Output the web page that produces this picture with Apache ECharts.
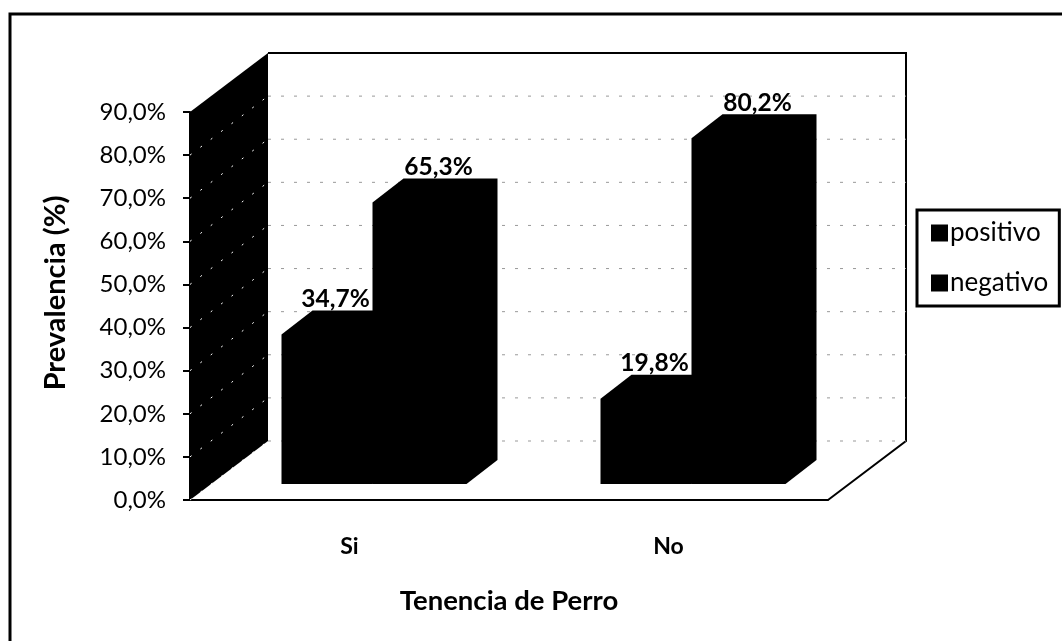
<!DOCTYPE html>
<html>
<head>
<meta charset="utf-8">
<style>
    html, body { margin: 0; padding: 0; background: #fff; }
    #chart { width: 1062px; height: 641px; }
</style>
<script src="https://cdn.jsdelivr.net/npm/echarts@6/dist/echarts.min.js"></script>
</head>
<body>
<div id="chart"></div>
<script>
const categories = ['Si', 'No']
const positivo = [34.7, 19.8]
const negativo = [65.3, 80.2]
const yTicks = [0, 10, 20, 30, 40, 50, 60, 70, 80, 90]

const font = 'Lato'
// depth of the fake 3d box, the walls and the bars
const wallDx = 78, wallDy = -59
const barDx = 31, barDy = -24
const barLift = 16

const fmt = v => v.toFixed(1).replace('.', ',') + '%'

const chartInstance = echarts.init(document.getElementById('chart'))

// left wall + outline of the back wall and floor
const renderWalls = (params, api) => {
    const r = params.coordSys
    const bottom = r.y + r.height
    const right = r.x + r.width
    return {
        type: 'group',
        silent: true,
        children: [
            {
                type: 'polygon',
                shape: { points: [[r.x, bottom], [r.x, r.y], [r.x + wallDx, r.y + wallDy], [r.x + wallDx, bottom + wallDy]] },
                style: { fill: '#000' }
            },
            {
                type: 'polyline',
                shape: { points: [[r.x + wallDx, r.y + wallDy], [right + wallDx, r.y + wallDy], [right + wallDx, bottom + wallDy], [right, bottom]] },
                style: { fill: 'none', stroke: '#000', lineWidth: 2 }
            }
        ]
    }
}

// gridline on the back wall and on the left wall for one tick
const renderGrid = (params, api) => {
    const r = params.coordSys
    const y = api.coord([0, api.value(0)])[1]
    const top = api.value(0) === 90
    return {
        type: 'group',
        silent: true,
        children: [
            {
                type: 'line',
                ignore: top,
                shape: { x1: r.x + wallDx, y1: y + wallDy, x2: r.x + r.width + wallDx, y2: y + wallDy },
                style: { stroke: '#999', lineWidth: 1, lineDash: [3, 10] }
            },
            {
                type: 'line',
                ignore: top,
                shape: { x1: r.x, y1: y, x2: r.x + wallDx, y2: y + wallDy },
                style: { stroke: '#fff', lineWidth: 1, lineDash: [2, 11] }
            }
        ]
    }
}

const makeBar = (from, to, labelX) => (params, api) => {
    const idx = api.value(0)
    const val = api.value(1)
    const c = api.coord([idx, 0])[0]
    const y0 = api.coord([idx, 0])[1] - barLift
    const y1 = api.coord([idx, val])[1] - barLift
    const x0 = c + from
    const x1 = c + to
    return {
        type: 'group',
        children: [
            {
                type: 'polygon',
                shape: { points: [[x0, y0], [x0, y1], [x0 + barDx, y1 + barDy], [x1 + barDx, y1 + barDy], [x1 + barDx, y0 + barDy], [x1, y0]] },
                style: { fill: '#000' }
            },
            {
                type: 'text',
                x: x0 + labelX,
                y: y1 + barDy + 1,
                style: {
                    text: fmt(val),
                    fill: '#000',
                    font: 'bold 24.5px ' + font,
                    align: 'center',
                    verticalAlign: 'bottom'
                }
            }
        ]
    }
}

const option = {
    animation: false,
    backgroundColor: '#fff',
    textStyle: { fontFamily: font },
    graphic: [{
        // the source only has the left and top edges of the frame
        type: 'polyline',
        silent: true,
        z: -1,
        shape: { points: [[10, 641], [10, 14], [1062, 14]] },
        style: { fill: 'none', stroke: '#000', lineWidth: 3 }
    }],
    grid: { left: 190, top: 112, width: 638, height: 388 },
    legend: {
        left: 917,
        top: 210,
        orient: 'vertical',
        data: ['positivo', 'negativo'],
        icon: 'rect',
        itemWidth: 17,
        itemHeight: 17,
        itemGap: 24,
        padding: [10, 11, 10, 14],
        borderColor: '#000',
        borderWidth: 3,
        selectedMode: false,
        textStyle: { fontFamily: font, fontSize: 26, color: '#000', padding: [0, 0, 0, -3] }
    },
    xAxis: {
        type: 'category',
        data: categories,
        name: 'Tenencia de Perro',
        nameLocation: 'middle',
        nameGap: 87,
        nameTextStyle: { fontFamily: font, fontSize: 27.5, fontWeight: 'bold', color: '#000' },
        axisLine: { lineStyle: { color: '#000', width: 2 } },
        axisTick: { show: false },
        axisLabel: { fontFamily: font, fontSize: 23, fontWeight: 'bold', color: '#000', margin: 35 }
    },
    yAxis: {
        type: 'value',
        min: 0,
        max: 90,
        interval: 10,
        name: 'Prevalencia (%)',
        nameLocation: 'middle',
        nameGap: 120,
        nameTextStyle: { fontFamily: font, fontSize: 29, fontWeight: 'bold', color: '#000', padding: [0, 0, 0, 26] },
        axisLine: { show: true, lineStyle: { color: '#000', width: 2 } },
        axisTick: { show: true, length: 7, lineStyle: { color: '#000', width: 2 } },
        axisLabel: { fontFamily: font, fontSize: 24, color: '#000', margin: 24, formatter: fmt },
        splitLine: { show: false }
    },
    series: [
        { type: 'custom', silent: true, renderItem: renderWalls, data: [[0]], encode: { x: -1, y: -1 } },
        { type: 'custom', silent: true, renderItem: renderGrid, data: yTicks.map(v => [v]), encode: { x: -1, y: 0 } },
        {
            name: 'positivo',
            type: 'custom',
            renderItem: makeBar(-68, 23, 54),
            itemStyle: { color: '#000' },
            data: positivo.map((v, i) => [i, v]),
            encode: { x: 0, y: 1 }
        },
        {
            name: 'negativo',
            type: 'custom',
            renderItem: makeBar(23, 117, 66),
            itemStyle: { color: '#000' },
            data: negativo.map((v, i) => [i, v]),
            encode: { x: 0, y: 1 }
        }
    ]
}

chartInstance.setOption(option)
</script>
</body>
</html>
